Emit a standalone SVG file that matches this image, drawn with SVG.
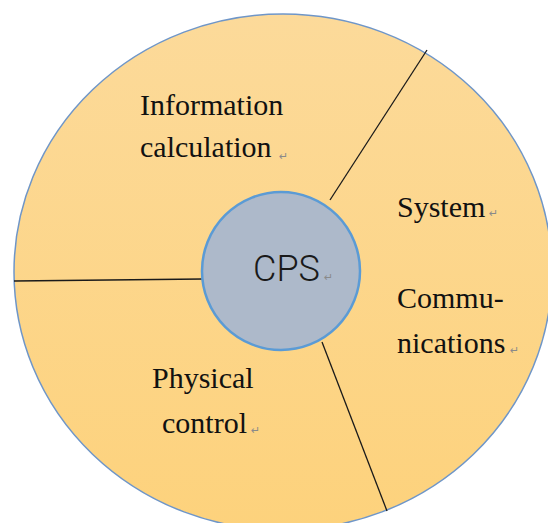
<svg xmlns="http://www.w3.org/2000/svg" width="548" height="523" viewBox="0 0 548 523">
<defs>
<linearGradient id="og" x1="0" y1="0" x2="0" y2="1">
<stop offset="0" stop-color="#FCDA9A"/>
<stop offset="1" stop-color="#FDD27C"/>
</linearGradient>
</defs>
<style>
.lbl{font-family:"Liberation Serif","Times New Roman",serif;font-size:30px;fill:#111;}
.ret{font-family:"DejaVu Sans",sans-serif;font-size:11px;fill:#8a8a8a;}
.div{stroke:#1a1a1a;stroke-width:1.3;fill:none;}
</style>
<rect width="548" height="523" fill="#ffffff"/>
<g id="outer">
<ellipse cx="283" cy="272" rx="269" ry="258" fill="url(#og)" stroke="#6F96C8" stroke-width="1.5"/>
</g>
<g id="connectors">
<line class="div" x1="427" y1="50" x2="330" y2="200"/>
<line class="div" x1="14" y1="281" x2="203" y2="279"/>
<line class="div" x1="322" y1="342" x2="387" y2="511"/>
</g>
<g id="cps">
<circle cx="281" cy="271" r="79" fill="#ADB9CA" stroke="#5B9BD5" stroke-width="2.5"/>
<text x="253" y="281" font-family="Roboto,'Liberation Sans',sans-serif" font-weight="300" font-size="36" fill="#1a1a1a">CPS</text>
<text class="ret" x="324" y="281">↵</text>
</g>
<g id="information-calculation">
<text class="lbl" x="140" y="115">Information</text>
<text class="lbl" x="140" y="157">calculation</text>
<text class="ret" x="279" y="160">↵</text>
</g>
<g id="system-communications">
<text class="lbl" x="397" y="217">System</text>
<text class="ret" x="489" y="217">↵</text>
<text class="lbl" x="397" y="308">Commu-</text>
<text class="lbl" x="397" y="353">nications</text>
<text class="ret" x="510" y="354">↵</text>
</g>
<g id="physical-control">
<text class="lbl" x="152" y="388">Physical</text>
<text class="lbl" x="162" y="433">control</text>
<text class="ret" x="251" y="434">↵</text>
</g>
</svg>
